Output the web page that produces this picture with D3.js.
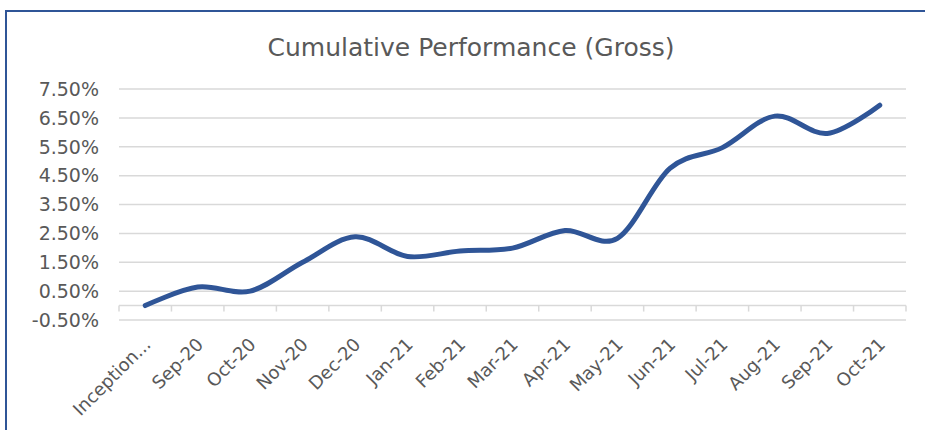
<!DOCTYPE html>
<html>
<head>
<meta charset="utf-8">
<script src="https://cdn.jsdelivr.net/npm/d3@7"></script>
<style>
  body { margin: 0; background: #fff; }
  text { font-family: "DejaVu Sans", Verdana, sans-serif; fill: #595959; }
</style>
</head>
<body>
<div id="chart"></div>
<script>
// months along the axis
var months = ["Inception...", "Sep-20", "Oct-20", "Nov-20", "Dec-20", "Jan-21", "Feb-21",
  "Mar-21", "Apr-21", "May-21", "Jun-21", "Jul-21", "Aug-21", "Sep-21", "Oct-21"];
// cumulative gross performance, in %
var cumPerf = [0.00, 0.64, 0.50, 1.50, 2.38, 1.70, 1.89, 1.99, 2.60, 2.33, 4.75, 5.47, 6.56, 5.96, 6.94];
var yTicks = [-0.5, 0.5, 1.5, 2.5, 3.5, 4.5, 5.5, 6.5, 7.5];

var W = 925, H = 430;
var margin = {top: 89, right: 19, bottom: 110, left: 119};
var width = W - margin.left - margin.right,
    height = H - margin.top - margin.bottom;

var svg = d3.select("#chart").append("svg")
  .attr("width", W)
  .attr("height", H);

// outer frame (only top + left show)
svg.append("rect")
  .attr("x", 6).attr("y", 11)
  .attr("width", W + 20).attr("height", H + 20)
  .attr("fill", "none")
  .attr("stroke", "#2f5597")
  .attr("stroke-width", 2);

svg.append("text")
  .attr("x", 471).attr("y", 56)
  .attr("text-anchor", "middle")
  .style("font-size", "25px")
  .text("Cumulative Performance (Gross)");

var g = svg.append("g")
  .attr("transform", "translate(" + margin.left + "," + margin.top + ")");

var x = d3.scaleBand().domain(months).range([0, width]);
var y = d3.scaleLinear().domain([-0.5, 7.5]).range([height, 0]);

// gridlines
g.selectAll(".grid")
  .data(yTicks)
  .enter().append("line")
  .attr("class", "grid")
  .attr("x1", 0).attr("x2", width)
  .attr("y1", function(d) { return y(d); })
  .attr("y2", function(d) { return y(d); })
  .attr("stroke", "#d9d9d9")
  .attr("stroke-width", 1.5);

// y labels
g.selectAll(".ylab")
  .data(yTicks)
  .enter().append("text")
  .attr("class", "ylab")
  .attr("x", -20)
  .attr("y", function(d) { return y(d); })
  .attr("dy", "0.36em")
  .attr("text-anchor", "end")
  .style("font-size", "19px")
  .text(function(d) { return d.toFixed(2) + "%"; });

// category axis sits on zero
var y0 = y(0);
g.append("line")
  .attr("x1", 0).attr("x2", width)
  .attr("y1", y0).attr("y2", y0)
  .attr("stroke", "#d9d9d9")
  .attr("stroke-width", 1.5);

var tickPos = months.map(function(d) { return x(d); }).concat([width]);
g.selectAll(".xtick")
  .data(tickPos)
  .enter().append("line")
  .attr("class", "xtick")
  .attr("x1", function(d) { return d; })
  .attr("x2", function(d) { return d; })
  .attr("y1", y0).attr("y2", y0 + 6)
  .attr("stroke", "#d9d9d9")
  .attr("stroke-width", 1.5);

// x labels, rotated
g.selectAll(".xlab")
  .data(months)
  .enter().append("text")
  .attr("class", "xlab")
  .attr("transform", function(d) {
    return "translate(" + (x(d) + x.bandwidth() / 2 + 2) + "," + (height + 21) + ") rotate(-45)";
  })
  .attr("text-anchor", "end")
  .attr("dy", "0.36em")
  .style("font-size", "18px")
  .text(function(d) { return d; });

// the line
var line = d3.line()
  .x(function(d, i) { return x(months[i]) + x.bandwidth() / 2; })
  .y(function(d) { return y(d); })
  .curve(d3.curveCardinal.tension(0));

g.append("path")
  .datum(cumPerf)
  .attr("d", line)
  .attr("fill", "none")
  .attr("stroke", "#2f5597")
  .attr("stroke-width", 5)
  .attr("stroke-linecap", "round");
</script>
</body>
</html>
